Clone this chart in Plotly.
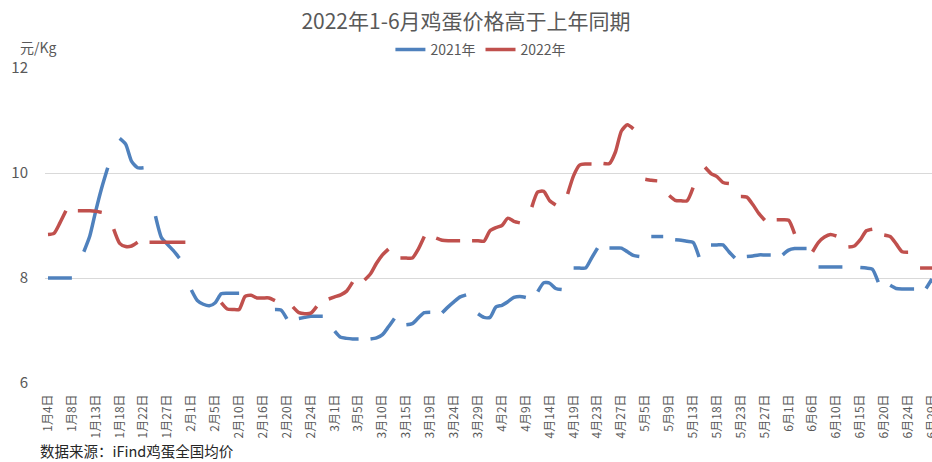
import plotly.graph_objects as go

# ---------------- data ----------------
categories = [
    "1月4日", "1月5日", "1月6日", "1月7日", "1月8日", "1月10日", "1月11日", "1月12日", "1月13日", "1月14日",
    "1月15日", "1月17日", "1月18日", "1月19日", "1月20日", "1月21日", "1月22日", "1月24日", "1月25日", "1月26日",
    "1月27日", "1月28日", "1月29日", "1月30日", "2月1日", "2月2日", "2月3日", "2月4日", "2月5日", "2月7日",
    "2月8日", "2月9日", "2月10日", "2月11日", "2月14日", "2月15日", "2月16日", "2月17日", "2月18日", "2月19日",
    "2月20日", "2月21日", "2月22日", "2月23日", "2月24日", "2月25日", "2月26日", "2月28日", "3月1日", "3月2日",
    "3月3日", "3月4日", "3月5日", "3月7日", "3月8日", "3月9日", "3月10日", "3月11日", "3月12日", "3月14日",
    "3月15日", "3月16日", "3月17日", "3月18日", "3月19日", "3月21日", "3月22日", "3月23日", "3月24日", "3月25日",
    "3月26日", "3月28日", "3月29日", "3月30日", "3月31日", "4月1日", "4月2日", "4月6日", "4月7日", "4月8日",
    "4月9日", "4月11日", "4月12日", "4月13日", "4月14日", "4月15日", "4月16日", "4月18日", "4月19日", "4月20日",
    "4月21日", "4月22日", "4月23日", "4月24日", "4月25日", "4月26日", "4月27日", "4月28日", "4月29日", "4月30日",
    "5月5日", "5月6日", "5月7日", "5月8日", "5月9日", "5月10日", "5月11日", "5月12日", "5月13日", "5月14日",
    "5月16日", "5月17日", "5月18日", "5月19日", "5月20日", "5月21日", "5月23日", "5月24日", "5月25日", "5月26日",
    "5月27日", "5月28日", "5月30日", "5月31日", "6月1日", "6月2日", "6月3日", "6月4日", "6月6日", "6月7日",
    "6月8日", "6月9日", "6月10日", "6月11日", "6月13日", "6月14日", "6月15日", "6月16日", "6月17日", "6月18日",
    "6月20日", "6月21日", "6月22日", "6月23日", "6月24日", "6月25日", "6月27日", "6月28日", "6月29日",
]

tick_labels = [
    "1月4日", "1月8日", "1月13日", "1月18日", "1月22日", "1月27日", "2月1日", "2月5日", "2月10日", "2月16日",
    "2月20日", "2月24日", "3月1日", "3月5日", "3月10日", "3月15日", "3月19日", "3月24日", "3月29日", "4月2日",
    "4月9日", "4月14日", "4月19日", "4月23日", "4月27日", "5月5日", "5月9日", "5月13日", "5月18日", "5月23日",
    "5月27日", "6月1日", "6月6日", "6月10日", "6月15日", "6月20日", "6月24日", "6月29日",
]

N = None
price_2021 = [
    8.0, 8.0, 8.0, 8.0, 8.0, N, 8.5, 8.8, 9.28, 9.72,
    10.1, N, 10.66, 10.55, 10.22, 10.1, 10.1, N, 9.18, 8.77,
    8.64, 8.52, 8.38, N, 7.77, 7.57, 7.5, 7.47, 7.53, 7.7,
    7.71, 7.71, 7.71, N, N, N, N, N, 7.4, 7.39,
    7.22, N, 7.23, 7.25, 7.27, 7.27, 7.27, N, 6.99, 6.87,
    6.85, 6.84, 6.84, N, 6.84, 6.86, 6.92, 7.07, 7.23, N,
    7.11, 7.13, 7.24, 7.34, 7.35, N, 7.34, 7.45, 7.55, 7.64,
    7.68, N, 7.32, 7.25, 7.25, 7.45, 7.48, 7.55, 7.63, 7.65,
    7.63, N, 7.74, 7.91, 7.9, 7.8, 7.78, N, 8.19, 8.19,
    8.19, 8.38, 8.57, N, 8.57, 8.57, 8.57, 8.5, 8.43, 8.41,
    N, 8.79, 8.79, 8.79, N, 8.73, 8.72, 8.7, 8.68, 8.4,
    N, 8.63, 8.63, 8.63, 8.5, 8.38, N, 8.41, 8.42, 8.44,
    8.44, 8.44, N, 8.44, 8.53, 8.56, 8.56, 8.56, N, 8.21,
    8.21, 8.21, 8.21, 8.21, N, N, 8.2, 8.19, 8.17, 7.92,
    N, 7.86, 7.8, 7.79, 7.79, 7.79, N, 7.8, 7.98,
]

price_2022 = [
    8.83, 8.85, 9.05, 9.28, N, 9.28, 9.28, 9.28, 9.27, 9.25,
    N, 8.93, 8.66, 8.6, 8.61, 8.68, N, 8.68, 8.68, 8.68,
    8.68, 8.68, 8.68, 8.68, N, N, N, N, N, 7.53,
    7.41, 7.4, 7.4, 7.65, 7.67, 7.62, 7.62, 7.62, 7.57, N,
    N, 7.45, 7.34, 7.32, 7.33, 7.46, N, 7.6, 7.64, 7.68,
    7.75, 7.92, N, 7.96, 8.08, 8.28, 8.44, 8.55, N, 8.38,
    8.38, 8.38, 8.55, 8.79, N, 8.76, 8.72, 8.71, 8.71, 8.71,
    N, 8.71, 8.71, 8.7, 8.9, 8.96, 9.0, 9.14, 9.08, 9.05,
    N, 9.35, 9.64, 9.65, 9.47, 9.39, N, 9.6, 9.95, 10.15,
    10.17, 10.17, N, 10.18, 10.18, 10.4, 10.8, 10.92, 10.84, N,
    9.88, 9.86, 9.85, N, 9.57, 9.48, 9.47, 9.47, 9.72, N,
    10.11, 9.99, 9.93, 9.82, 9.8, N, 9.55, 9.54, 9.4, 9.23,
    9.1, N, 9.11, 9.11, 9.1, 8.84, N, N, 8.5, 8.68,
    8.78, 8.83, 8.8, N, 8.59, 8.61, 8.73, 8.9, 8.93, N,
    8.82, 8.79, 8.65, 8.5, 8.49, N, 8.19, 8.19, 8.19,
]

series_names = ["2021年", "2022年"]
y_ticks = [6, 8, 10, 12]

# ---------------- figure ----------------
W, H = 932, 462
L, T, B = 45.4, 68, 78.5
PH = H - T - B
FONT = "Noto Sans CJK SC, Noto Sans, sans-serif"
GREY = "#595959"

fig = go.Figure()
for name, vals, col in [(series_names[0], price_2021, "#4F81BD"),
                        (series_names[1], price_2022, "#C0504D")]:
    fig.add_trace(go.Scatter(
        x=categories, y=vals, name=name, mode="lines",
        connectgaps=False,
        line=dict(color=col, width=3.5, shape="spline", smoothing=0.6),
    ))

fig.update_layout(
    width=W, height=H,
    paper_bgcolor="white", plot_bgcolor="white",
    margin=dict(l=L, r=0, t=T, b=B, pad=0, autoexpand=False),
    font=dict(family=FONT, color=GREY),
    title=dict(text="2022年1-6月鸡蛋价格高于上年同期",
               x=0.5, xref="container", xanchor="center",
               y=1 - 22 / H, yref="container", yanchor="middle",
               font=dict(size=21, color=GREY, family=FONT)),
    legend=dict(orientation="h", xref="container", yref="container",
                x=0.516, xanchor="center", y=1 - 50 / H, yanchor="middle",
                font=dict(size=14, color=GREY, family=FONT),
                bgcolor="rgba(0,0,0,0)", itemwidth=30, tracegroupgap=0),
    showlegend=True,
)

fig.update_xaxes(
    type="category", categoryorder="array", categoryarray=categories,
    range=[-0.5, 148.0], automargin=False,
    tickmode="array", tickvals=tick_labels, ticktext=tick_labels,
    tickangle=-90, tickfont=dict(size=12, color=GREY, family=FONT),
    showgrid=False, zeroline=False, showline=False, ticks="",
    ticklabelstandoff=8,
)
fig.update_yaxes(
    range=[6, 12], tickmode="array", tickvals=y_ticks, automargin=False,
    tickfont=dict(size=15, color=GREY, family=FONT),
    showgrid=True, gridcolor="#D9D9D9", gridwidth=1.3,
    zeroline=False, showline=False, ticks="",
    ticklabelstandoff=16,
)

fig.add_annotation(text="元/Kg", xref="paper", yref="paper",
                   x=-(L - 18) / (W - L), xanchor="left",
                   y=1 + (T - 47) / PH, yanchor="middle",
                   showarrow=False, font=dict(size=14, color=GREY, family=FONT))
fig.add_annotation(text="数据来源：iFind鸡蛋全国均价", xref="paper", yref="paper",
                   x=-(L - 38) / (W - L), xanchor="left",
                   y=-(451 - (H - B)) / PH, yanchor="middle",
                   showarrow=False, font=dict(size=14.5, color="#262626", family=FONT))

fig.write_html("out.html", config={"displayModeBar": False},
               post_script="document.body.style.margin='0';document.body.style.overflow='hidden';")
